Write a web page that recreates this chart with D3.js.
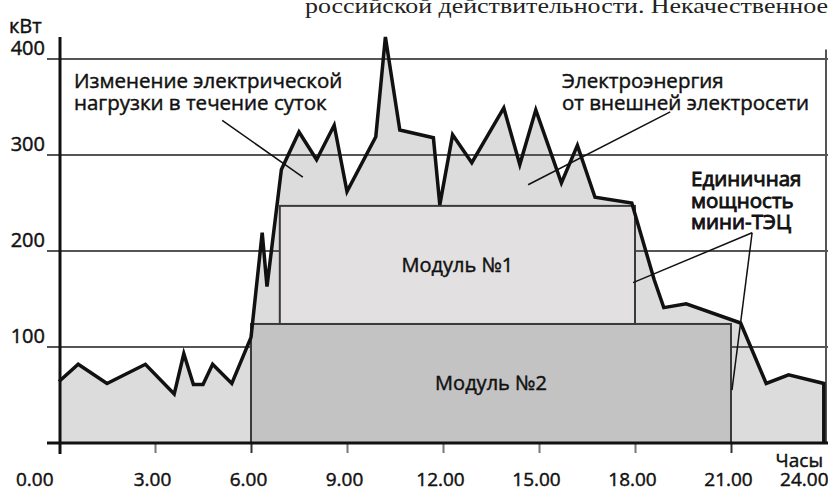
<!DOCTYPE html>
<html>
<head>
<meta charset="utf-8">
<script src="https://cdn.jsdelivr.net/npm/d3@7"></script>
<style>
	body { margin: 0; background: #fff; }
	svg { display: block; font-family: 'Open Sans', sans-serif; }
	.lbl { fill: #111; stroke: #111; stroke-width: 0.45px; }
</style>
</head>
<body>
<div id="chart"></div>
<script>
// load curve, hours of day vs kW
const hours = [0, 0.6, 1.5, 2.7, 3.6, 3.9, 4.2, 4.5, 4.8, 5.4, 6.0, 6.35, 6.5, 6.95, 7.5, 8.05, 8.6, 9.0, 9.9, 10.2,
	10.65, 11.7, 11.9, 12.3, 12.9, 13.9, 14.4, 14.9, 15.7, 16.2, 16.75, 17.9, 18.6, 18.9, 19.6, 21.3, 22.1, 22.8, 23.9]
const load = [64, 82, 62, 82, 51, 93, 61, 61, 82, 62, 110, 219, 163, 285, 324, 295, 331, 262, 319, 423,
	326, 318, 248, 321, 292, 349, 290, 347, 271, 310, 256, 250, 170, 141, 145, 125, 62, 71, 62]

// mini-CHP modules
const moduleNames = ['Модуль №1', 'Модуль №2']
const moduleStart = [6.9, 6]
const moduleEnd = [18, 21]
const moduleLow = [124, 0]
const moduleHigh = [247, 124]

const xTicks = [0, 3, 6, 9, 12, 15, 18, 21, 24]
const yTicks = [100, 200, 300, 400]

const noteLoad = ['Изменение электрической', 'нагрузки в течение суток']
const noteGrid = ['Электроэнергия', 'от внешней электросети']
const noteUnit = ['Единичная', 'мощность', 'мини-ТЭЦ']
const pageText = 'российской действительности. Некачественное'

const width = 828
const height = 490
const ink = '#111'

const x = d3.scaleLinear().domain([0, 24]).range([59, 827])
const y = d3.scaleLinear().domain([0, 400]).range([443, 59])

const svg = d3.select('#chart').append('svg')
	.attr('width', width)
	.attr('height', height)

// page text cut at the top
svg.append('text')
	.attr('x', 305)
	.attr('y', 13)
	.attr('textLength', 523)
	.attr('lengthAdjust', 'spacingAndGlyphs')
	.style('font-family', "'Liberation Serif', serif")
	.style('font-size', '22px')
	.attr('fill', '#222')
	.text(pageText)

const points = hours.map((h, i) => [h, load[i]])

// area under the load
const area = d3.area()
	.x(d => x(d[0]))
	.y0(y(0))
	.y1(d => y(d[1]))

svg.append('path')
	.datum(points)
	.attr('d', area)
	.attr('fill', '#dcdcdc')

// grid
svg.append('g')
	.selectAll('line')
	.data(yTicks)
	.join('line')
	.attr('x1', 47)
	.attr('x2', width)
	.attr('y1', d => y(d))
	.attr('y2', d => y(d))
	.attr('stroke', '#555')
	.attr('stroke-width', 2)

// right frame
svg.append('line')
	.attr('x1', x(24) - 1).attr('x2', x(24) - 1)
	.attr('y1', y(410)).attr('y2', y(0))
	.attr('stroke', '#555')
	.attr('stroke-width', 2)

// modules
const mods = svg.append('g')
	.selectAll('g')
	.data(moduleNames.map((name, i) => ({ name, i })).reverse())
	.join('g')

mods.append('rect')
	.attr('x', d => x(moduleStart[d.i]))
	.attr('y', d => y(moduleHigh[d.i]))
	.attr('width', d => x(moduleEnd[d.i]) - x(moduleStart[d.i]))
	.attr('height', d => y(moduleLow[d.i]) - y(moduleHigh[d.i]))
	.attr('fill', d => d.i === 0 ? '#e2e0e0' : '#c3c3c3')
	.attr('stroke', '#3a3a3a')
	.attr('stroke-width', 2)

mods.append('text')
	.attr('class', 'lbl')
	.attr('x', d => (x(moduleStart[d.i]) + x(moduleEnd[d.i])) / 2)
	.attr('y', d => (y(moduleLow[d.i]) + y(moduleHigh[d.i])) / 2 + 7)
	.attr('text-anchor', 'middle')
	.style('font-size', '20px')
	.text(d => d.name)

// load line
const line = d3.line()
	.x(d => x(d[0]))
	.y(d => y(d[1]))

const last = points[points.length - 1]
svg.append('path')
	.datum(points.concat([[last[0], 0]]))
	.attr('d', line)
	.attr('fill', 'none')
	.attr('stroke', ink)
	.attr('stroke-width', 3.5)
	.attr('stroke-linejoin', 'miter')

// x axis with ticks
const xAxis = d3.axisBottom(x)
	.tickValues(xTicks)
	.tickSize(10)
	.tickPadding(20)
	.tickFormat(d => d + '.00')

const gx = svg.append('g')
	.attr('transform', `translate(0,${y(0)})`)
	.call(xAxis)

gx.select('.domain').remove()
gx.selectAll('.tick line')
	.attr('stroke', d => (d === 6 || d === 21) ? '#333' : '#777')
	.attr('stroke-width', 2)
	.attr('display', d => (d === 0 || d === 24) ? 'none' : null)
gx.selectAll('.tick text')
	.attr('class', 'lbl')
	.style('font-family', "'Open Sans', sans-serif")
	.style('font-size', '19px')
	.attr('text-anchor', d => d === 0 ? 'end' : d === 24 ? 'end' : 'middle')
	.attr('dx', d => d === 0 ? -6 : d === 24 ? 1 : -3)

svg.append('line')
	.attr('x1', 47).attr('x2', width)
	.attr('y1', y(0)).attr('y2', y(0))
	.attr('stroke', ink)
	.attr('stroke-width', 3)

svg.append('line')
	.attr('x1', x(0) + 1).attr('x2', x(0) + 1)
	.attr('y1', 37).attr('y2', y(0) + 11)
	.attr('stroke', ink)
	.attr('stroke-width', 3)

// y labels
svg.append('g')
	.selectAll('text')
	.data(yTicks)
	.join('text')
	.attr('class', 'lbl')
	.attr('x', 45)
	.attr('y', d => y(d) - 4)
	.attr('text-anchor', 'end')
	.style('font-size', '20px')
	.text(d => d)

svg.append('text')
	.attr('class', 'lbl')
	.attr('x', 9)
	.attr('y', 33)
	.style('font-size', '20px')
	.text('кВт')

svg.append('text')
	.attr('class', 'lbl')
	.attr('x', 823)
	.attr('y', 467)
	.attr('text-anchor', 'end')
	.style('font-size', '19px')
	.text('Часы')

// notes
function note(lines, px, py, size, thick) {
	svg.append('text')
		.attr('class', 'lbl')
		.attr('x', px)
		.attr('y', py)
		.style('font-size', size + 'px')
		.style('stroke-width', thick + 'px')
		.selectAll('tspan')
		.data(lines)
		.join('tspan')
		.attr('x', px)
		.attr('dy', (d, i) => i === 0 ? 0 : 21.5)
		.text(d => d)
}

note(noteLoad, 74, 88, 20.5, 0.45)
note(noteGrid, 562, 88, 20.5, 0.45)
note(noteUnit, 691, 186, 20.5, 0.9)

// leader lines, ends in data units
const leaders = [
	[[5.1, 336], [7.62, 277]],
	[[19.1, 345], [14.66, 269]],
	[[21.66, 219], [17.94, 167]],
	[[21.66, 219], [21.03, 55]],
]

svg.append('g')
	.selectAll('line')
	.data(leaders)
	.join('line')
	.attr('x1', d => x(d[0][0]))
	.attr('y1', d => y(d[0][1]))
	.attr('x2', d => x(d[1][0]))
	.attr('y2', d => y(d[1][1]))
	.attr('stroke', ink)
	.attr('stroke-width', 1.5)
</script>
</body>
</html>
